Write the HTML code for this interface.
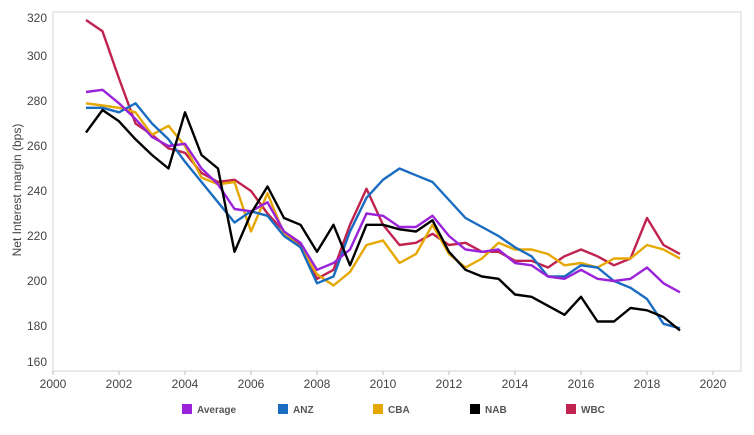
<!DOCTYPE html>
<html><head><meta charset="utf-8"><style>
body{margin:0;background:#fff;width:754px;height:430px;overflow:hidden;font-family:"Liberation Sans",sans-serif}
svg text{font-family:"Liberation Sans",sans-serif}
</style></head><body>
<svg id="chart" width="754" height="430" xmlns="http://www.w3.org/2000/svg"></svg>
<script>
const years = [2001,2001.5,2002,2002.5,2003,2003.5,2004,2004.5,2005,2005.5,2006,2006.5,2007,2007.5,2008,2008.5,2009,2009.5,2010,2010.5,2011,2011.5,2012,2012.5,2013,2013.5,2014,2014.5,2015,2015.5,2016,2016.5,2017,2017.5,2018,2018.5,2019];
const seriesNames = ["Average","ANZ","CBA","NAB","WBC"];
const average = [284,285,279,272,264,260,261,250,243,232,231,235,222,217,205,208,214,230,229,224,224,229,220,214,213,214,208,207,202,201,205,201,200,201,206,199,195];
const anz = [277,277,275,279,270,263,253,244,235,226,231,229,220,215,199,202,222,237,245,250,247,244,236,228,224,220,215,211,202,202,207,206,200,197,192,181,179];
const cba = [279,278,277,275,265,269,260,246,243,244,222,239,221,215,203,198,204,216,218,208,212,225,212,206,210,217,214,214,212,207,208,206,210,210,216,214,210];
const nab = [266,276,271,263,256,250,275,256,250,213,230,242,228,225,213,225,207,225,225,223,222,227,213,205,202,201,194,193,189,185,193,182,182,188,187,184,178];
const wbc = [316,311,290,270,265,259,257,248,244,245,240,230,222,216,201,205,225,241,225,216,217,221,216,217,213,213,209,209,206,211,214,211,207,210,228,216,212];
const xTicks = [2000,2002,2004,2006,2008,2010,2012,2014,2016,2018,2020];
const yTicks = [160,180,200,220,240,260,280,300,320];

const svg = document.getElementById('chart');
const NS = "http://www.w3.org/2000/svg";
const L=53,R=741,T=12,B=371;
const xs = y => 53 + (y-2000)*33;
const ys = v => 281 - (v-200)*2.25;
function mk(tag, attrs){const e=document.createElementNS(NS,tag);for(const k in attrs)e.setAttribute(k,attrs[k]);svg.appendChild(e);return e;}

const frame = mk('rect',{x:L,y:T,width:R-L,height:B-T,fill:'none',stroke:'#d4d4d4','stroke-width':1});



xTicks.forEach(t=>{
  const tk = mk('line',{x1:xs(t),x2:xs(t),y1:B,y2:B+4,stroke:'#bbb'});
  
  
  const tx = mk('text',{x:xs(t),y:B+17,'text-anchor':'middle','font-size':12,fill:'#444'});
  tx.textContent=t;
  
  
});
yTicks.forEach(t=>{
  let yy = Math.min(Math.max(ys(t), 18), 362);
  const tx = mk('text',{x:47,y:yy+4,'text-anchor':'end','font-size':12,fill:'#444'});
  tx.textContent=t;
  
  
});
const yt = mk('text',{x:21,y:190,'text-anchor':'middle','font-size':12,fill:'#444',transform:'rotate(-90 21 190)'});
yt.textContent='Net Interest margin (bps)';



const data=[average,anz,cba,nab,wbc];
const colors=['#9a22d8','#1a6cc0','#e6a800','#000000','#c0234f'];
const legendX=[182,278,373,470,566];
const drawOrder=[4,2,1,0,3];
drawOrder.forEach(i=>{
  const d = data[i].map((v,j)=>(j?'L':'M')+xs(years[j]).toFixed(1)+','+ys(v).toFixed(1)).join(' ');
  const p = mk('path',{d:d,fill:'none',stroke:colors[i],'stroke-width':2.4,'stroke-linejoin':'round'});
  
  
});
seriesNames.forEach((n,i)=>{
  const r = mk('rect',{x:legendX[i],y:404,width:10,height:10,fill:colors[i]});
  
  
  const t = mk('text',{x:legendX[i]+15,y:413,'font-size':10,'font-weight':'bold',fill:'#555'});
  t.textContent=n;
  
  
});
</script>
</body></html>
